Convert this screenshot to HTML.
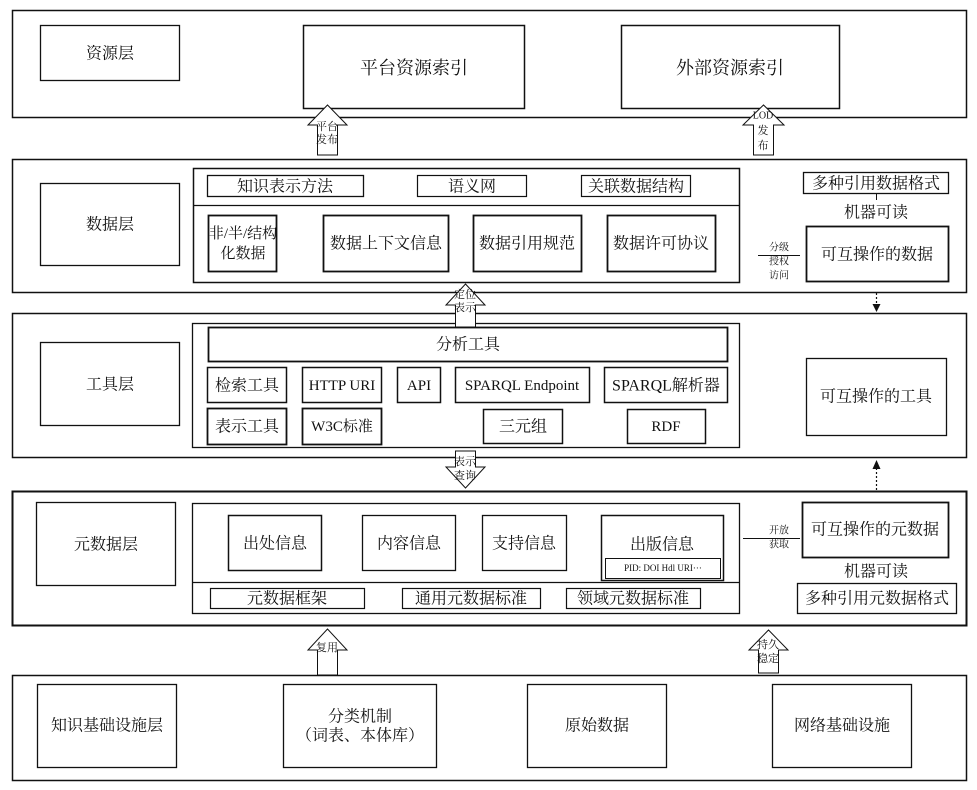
<!DOCTYPE html>
<html><head><meta charset="utf-8"><style>
html,body{margin:0;padding:0;background:#fff;}
svg{display:block;}
text{font-family:"Liberation Serif","Noto Serif CJK SC",serif;fill:#111;}
.c{text-anchor:middle;dominant-baseline:central;}
</style></head><body>
<svg width="977" height="790" viewBox="0 0 977 790" xmlns="http://www.w3.org/2000/svg">
<g fill="#fff" stroke="#111">
<rect x="12.5" y="10.5" width="954" height="107" stroke-width="1.5"/>
<rect x="12.5" y="159.5" width="954" height="133" stroke-width="1.5"/>
<rect x="12.5" y="313.5" width="954" height="144" stroke-width="1.5"/>
<rect x="12.5" y="491.5" width="954" height="134" stroke-width="2"/>
<rect x="12.5" y="675.5" width="954" height="105" stroke-width="1.5"/>

<rect x="40.5" y="25.5" width="139" height="55" stroke-width="1.3"/>
<rect x="303.5" y="25.5" width="221" height="83" stroke-width="1.5"/>
<rect x="621.5" y="25.5" width="218" height="83" stroke-width="1.5"/>

<rect x="40.5" y="183.5" width="139" height="82" stroke-width="1.3"/>
<rect x="193.5" y="168.5" width="546" height="114" stroke-width="1.5"/>
<line x1="193" y1="205.5" x2="739" y2="205.5" stroke-width="1.2"/>
<rect x="207.5" y="175.5" width="156" height="21" stroke-width="1.3"/>
<rect x="417.5" y="175.5" width="109" height="21" stroke-width="1.2"/>
<rect x="581.5" y="175.5" width="109" height="21" stroke-width="1.2"/>
<rect x="208.5" y="215.5" width="68" height="56" stroke-width="1.8"/>
<rect x="323.5" y="215.5" width="125" height="56" stroke-width="1.8"/>
<rect x="473.5" y="215.5" width="108" height="56" stroke-width="1.8"/>
<rect x="607.5" y="215.5" width="108" height="56" stroke-width="1.8"/>
<rect x="803.5" y="172.5" width="145" height="21" stroke-width="1.3"/>
<line x1="876.5" y1="193" x2="876.5" y2="200" stroke-width="1"/>
<rect x="806.5" y="226.5" width="142" height="55" stroke-width="1.8"/>
<line x1="758" y1="255.5" x2="800" y2="255.5" stroke-width="1"/>

<rect x="40.5" y="342.5" width="139" height="83" stroke-width="1.3"/>
<rect x="192.5" y="323.5" width="547" height="124" stroke-width="1.3"/>
<rect x="208.5" y="327.5" width="519" height="34" stroke-width="1.8"/>
<rect x="207.5" y="367.5" width="79" height="35" stroke-width="1.5"/>
<rect x="302.5" y="367.5" width="79" height="35" stroke-width="1.5"/>
<rect x="397.5" y="367.5" width="43" height="35" stroke-width="1.5"/>
<rect x="455.5" y="367.5" width="134" height="35" stroke-width="1.5"/>
<rect x="604.5" y="367.5" width="123" height="35" stroke-width="1.5"/>
<rect x="207.5" y="408.5" width="79" height="36" stroke-width="1.8"/>
<rect x="302.5" y="408.5" width="79" height="36" stroke-width="1.8"/>
<rect x="483.5" y="409.5" width="79" height="34" stroke-width="1.5"/>
<rect x="627.5" y="409.5" width="78" height="34" stroke-width="1.5"/>
<rect x="806.5" y="358.5" width="140" height="77" stroke-width="1.3"/>

<rect x="36.5" y="502.5" width="139" height="83" stroke-width="1.3"/>
<rect x="192.5" y="503.5" width="547" height="110" stroke-width="1.3"/>
<line x1="192" y1="582.5" x2="739" y2="582.5" stroke-width="1.2"/>
<rect x="228.5" y="515.5" width="93" height="55" stroke-width="1.5"/>
<rect x="362.5" y="515.5" width="93" height="55" stroke-width="1.3"/>
<rect x="482.5" y="515.5" width="84" height="55" stroke-width="1.3"/>
<rect x="601.5" y="515.5" width="122" height="65" stroke-width="1.5"/>
<rect x="605.5" y="558.5" width="115" height="20" stroke-width="1"/>
<rect x="210.5" y="588.5" width="154" height="20" stroke-width="1.2"/>
<rect x="402.5" y="588.5" width="138" height="20" stroke-width="1.2"/>
<rect x="566.5" y="588.5" width="134" height="20" stroke-width="1.2"/>
<rect x="802.5" y="502.5" width="146" height="55" stroke-width="1.8"/>
<rect x="797.5" y="583.5" width="159" height="30" stroke-width="1.3"/>
<line x1="743" y1="538.5" x2="800" y2="538.5" stroke-width="1"/>

<rect x="37.5" y="684.5" width="139" height="83" stroke-width="1.3"/>
<rect x="283.5" y="684.5" width="153" height="83" stroke-width="1.3"/>
<rect x="527.5" y="684.5" width="139" height="83" stroke-width="1.3"/>
<rect x="772.5" y="684.5" width="139" height="83" stroke-width="1.3"/>

<polygon points="317.5,155 317.5,125 308,125 327.5,105 347,125 337.5,125 337.5,155" stroke-width="1"/>
<polygon points="753.5,155 753.5,125 743,125 763.5,105 784,125 773.5,125 773.5,155" stroke-width="1"/>
<polygon points="455.5,327 455.5,305 446,305 465.5,284 485,305 475.5,305 475.5,327" stroke-width="1"/>
<polygon points="317.5,675 317.5,650 308,650 327.5,629 347,650 337.5,650 337.5,675" stroke-width="1"/>
<polygon points="758.5,673 758.5,650 749,650 768.5,630 788,650 778.5,650 778.5,673" stroke-width="1"/>
<polygon points="455.5,451 475.5,451 475.5,467 485,467 465.5,488 446,467 455.5,467" stroke-width="1"/>
</g>

<g stroke="#111" stroke-width="1.2" stroke-dasharray="2,2">
<line x1="876.5" y1="293" x2="876.5" y2="305"/>
<line x1="876.5" y1="468" x2="876.5" y2="490"/>
</g>
<polygon points="872.5,304 880.5,304 876.5,312" fill="#111"/>
<polygon points="872.5,469 880.5,469 876.5,460" fill="#111"/>

<g font-size="16">
<text class="c" x="110" y="54">资源层</text>
<text class="c" x="414" y="68" font-size="18">平台资源索引</text>
<text class="c" x="730" y="68" font-size="18">外部资源索引</text>

<text class="c" x="110" y="225">数据层</text>
<text class="c" x="285" y="187">知识表示方法</text>
<text class="c" x="472" y="187">语义网</text>
<text class="c" x="636" y="187">关联数据结构</text>
<text class="c" x="243" y="234" font-size="15">非/半/结构</text>
<text class="c" x="243" y="254" font-size="15">化数据</text>
<text class="c" x="386" y="244">数据上下文信息</text>
<text class="c" x="527" y="244">数据引用规范</text>
<text class="c" x="661" y="244">数据许可协议</text>
<text class="c" x="876" y="184">多种引用数据格式</text>
<text class="c" x="876" y="213">机器可读</text>
<text class="c" x="877" y="255">可互操作的数据</text>

<text class="c" x="110" y="385">工具层</text>
<text class="c" x="468" y="345">分析工具</text>
<text class="c" x="247" y="386">检索工具</text>
<text class="c" x="342" y="386" font-size="15">HTTP URI</text>
<text class="c" x="419" y="386" font-size="15">API</text>
<text class="c" x="522" y="386" font-size="15">SPARQL Endpoint</text>
<text class="c" x="666" y="386">SPARQL解析器</text>
<text class="c" x="247" y="427">表示工具</text>
<text class="c" x="342" y="427" font-size="15">W3C标准</text>
<text class="c" x="523" y="427">三元组</text>
<text class="c" x="666" y="427" font-size="15">RDF</text>
<text class="c" x="876" y="397">可互操作的工具</text>

<text class="c" x="106" y="545">元数据层</text>
<text class="c" x="275" y="544">出处信息</text>
<text class="c" x="409" y="544">内容信息</text>
<text class="c" x="524" y="544">支持信息</text>
<text class="c" x="662" y="545">出版信息</text>
<text class="c" x="663" y="568" font-size="9">PID:  DOI  Hdl  URI···</text>
<text class="c" x="287" y="599">元数据框架</text>
<text class="c" x="471" y="599">通用元数据标准</text>
<text class="c" x="633" y="599">领域元数据标准</text>
<text class="c" x="875" y="530">可互操作的元数据</text>
<text class="c" x="876" y="572">机器可读</text>
<text class="c" x="877" y="599">多种引用元数据格式</text>

<text class="c" x="107" y="726">知识基础设施层</text>
<text class="c" x="360" y="717">分类机制</text>
<text class="c" x="360" y="736">（词表、本体库）</text>
<text class="c" x="597" y="726">原始数据</text>
<text class="c" x="842" y="726">网络基础设施</text>
</g>

<g font-size="11">
<text class="c" x="327" y="127">平台</text>
<text class="c" x="327" y="140">发布</text>
<text class="c" x="763" y="116" font-size="10">LOD</text>
<text class="c" x="763" y="131">发</text>
<text class="c" x="763" y="146">布</text>
<text class="c" x="465" y="295">定位</text>
<text class="c" x="465" y="308">表示</text>
<text class="c" x="465" y="462">表示</text>
<text class="c" x="465" y="476">查询</text>
<text class="c" x="327" y="648">复用</text>
<text class="c" x="768" y="645">持久</text>
<text class="c" x="768" y="659">稳定</text>
<text class="c" x="779" y="248" font-size="10">分级</text>
<text class="c" x="779" y="262" font-size="10">授权</text>
<text class="c" x="779" y="276" font-size="10">访问</text>
<text class="c" x="779" y="531" font-size="10">开放</text>
<text class="c" x="779" y="545" font-size="10">获取</text>
</g>
</svg>
</body></html>
